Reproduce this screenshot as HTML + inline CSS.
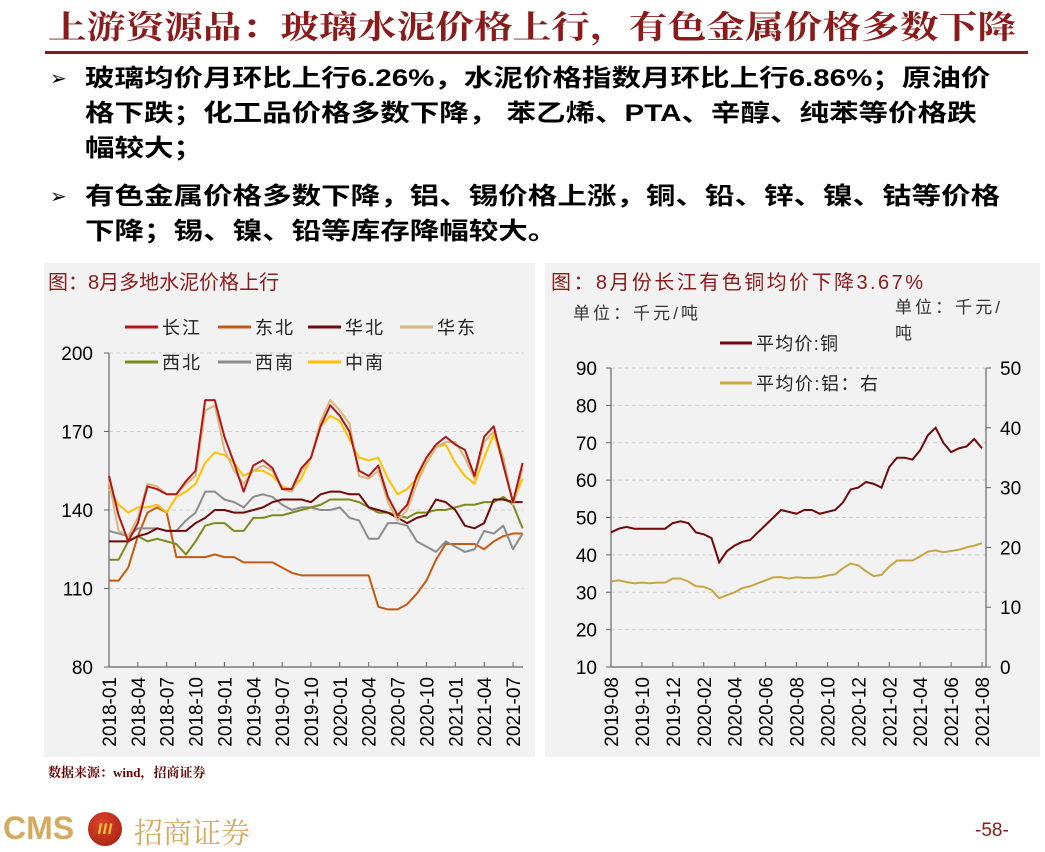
<!DOCTYPE html>
<html><head><meta charset="utf-8">
<style>
*{margin:0;padding:0;box-sizing:border-box}
body{width:1045px;height:849px;background:#fff;position:relative;overflow:hidden;font-family:"Liberation Sans","Noto Sans CJK SC",sans-serif}
.abs{position:absolute;white-space:nowrap}
#title{left:48px;top:2px;font-size:32px;color:#8B1A1A;font-family:"Liberation Serif","Noto Serif CJK SC",serif;font-weight:bold;transform:scaleX(1.21);transform-origin:left top}
#rule{left:45px;top:51px;width:983px;height:3px;background:#8B1A1A}
.bl{font-size:24px;color:#000;font-weight:bold;left:85px;line-height:35px;transform:scaleX(1.23);transform-origin:left top}
.arrow{font-size:20px;left:50px}
svg text{font-family:"Liberation Sans","Noto Sans CJK SC",sans-serif}
</style></head><body>
<div class="abs" id="title">上游资源品：玻璃水泥价格上行，有色金属价格多数下降</div>
<div class="abs" id="rule"></div>
<div class="abs arrow" style="top:66px">➢</div>
<div class="abs bl" style="top:61px">玻璃均价月环比上行6.26%，水泥价格指数月环比上行6.86%；原油价<br>格下跌；化工品价格多数下降， 苯乙烯、PTA、辛醇、纯苯等价格跌<br>幅较大；</div>
<div class="abs arrow" style="top:184px">➢</div>
<div class="abs bl" style="top:179px">有色金属价格多数下降，铝、锡价格上涨，铜、铅、锌、镍、钴等价格<br>下降；锡、镍、铅等库存降幅较大。</div>

<svg class="abs" style="left:0;top:0" width="1045" height="849" id="svg">
<rect x="44" y="263" width="491" height="494" fill="#f2f2f2"/>
<rect x="545" y="263" width="495" height="494" fill="#f2f2f2"/>
<text x="48" y="289" font-size="20" fill="#8B1A1A">图：8月多地水泥价格上行</text>
<text x="551" y="289" font-size="20" fill="#8B1A1A" textLength="372">图：8月份长江有色铜均价下降3.67%</text>
<text x="573" y="319" font-size="17" fill="#333" textLength="125">单位：千元/吨</text>
<text x="895" y="313" font-size="17" fill="#333" textLength="105">单位：千元/</text>
<text x="895" y="339" font-size="17" fill="#333">吨</text>
<g id="left"></g><g id="right"></g>
</svg>

<div class="abs" style="left:48px;top:762px;font-size:13px;font-weight:bold;color:#6B0000;font-family:'Liberation Serif','Noto Serif CJK SC',serif">数据来源：wind，招商证券</div>
<div class="abs" style="left:3px;top:810px;font-size:32px;color:#D4AA5F;font-weight:bold">CMS</div>
<div class="abs" style="left:88px;top:812px;width:34px;height:34px;border-radius:50%;background:radial-gradient(circle at 40% 35%,#e0452a,#9c1a10);color:#F5C542;font-size:17px;font-weight:bold;text-align:center;line-height:34px;font-style:italic">ווו</div>
<div class="abs" style="left:134px;top:811px;font-size:29px;color:#D4AA5F;font-family:'Noto Serif CJK SC',serif">招商证券</div>
<div class="abs" style="left:975px;top:820px;font-size:19px;color:#8B1A1A">-58-</div>

<script>
const cementMonths = ["2018-01","2018-04","2018-07","2018-10","2019-01","2019-04","2019-07","2019-10","2020-01","2020-04","2020-07","2020-10","2021-01","2021-04","2021-07"];
const cementYTicks = [80,110,140,170,200];
const cjiang = [153,138,128,135,149,148,146,146,151,155,182,182,168,158,147,157,159,156,148,148,156,160,172,180,176,170,155,153,157,145,138,142,153,160,165,168,165,163,153,168,172,157,143,158];
const dongbei = [113,113,118,130,139,141,139,122,122,122,122,123,122,122,120,120,120,120,118,116,115,115,115,115,115,115,115,115,103,102,102,104,108,113,121,127,127,127,127,125,128,130,131,131];
const huabei = [128,128,128,130,131,133,132,132,132,135,137,140,140,139,139,140,141,143,144,144,144,143,146,147,147,146,146,141,140,139,137,135,137,138,144,143,140,134,133,135,144,144,143,143];
const huadong = [151,132,130,137,150,149,146,146,150,153,178,180,163,155,150,155,157,155,148,147,155,160,174,182,178,173,153,152,155,143,136,140,150,158,164,166,166,160,152,166,170,160,142,156];
const xibei = [121,121,128,130,128,129,128,127,123,128,134,135,135,132,132,137,137,138,138,139,140,141,142,144,144,144,143,141,139,139,138,137,139,139,140,140,141,142,142,143,143,145,142,133];
const xinan = [132,131,130,133,133,133,132,132,136,139,147,147,144,143,141,145,146,145,142,140,141,141,140,140,141,137,136,129,129,135,135,134,128,126,124,128,126,124,125,132,131,134,125,131];
const zhongnan = [148,142,139,141,141,142,139,145,147,150,158,162,161,158,153,155,155,153,149,148,152,160,172,176,174,167,160,159,160,152,146,148,152,158,164,165,158,153,150,160,169,158,143,152];

const metalMonths = ["2019-08","2019-10","2019-12","2020-02","2020-04","2020-06","2020-08","2020-10","2020-12","2021-02","2021-04","2021-06","2021-08"];
const leftYTicks = [10,20,30,40,50,60,70,80,90];
const rightYTicks = [0,10,20,30,40,50];
const copper = [46,47,47.5,47,47,47,47,47,48.5,49,48.5,46,45.5,44.5,38,41,42.5,43.5,44,46,48,50,52,51.5,51,52,52,51,51.5,52,54,57.5,58,59.5,59,58,63.5,66,66,65.5,68,72,74,70,67.5,68.5,69,71,68.5];
const aluminum = [14.3,14.5,14.2,14,14.1,14,14.1,14.1,14.8,14.8,14.3,13.5,13.4,12.9,11.5,12,12.5,13.2,13.5,14,14.5,15,15,14.8,15,14.9,14.9,15,15.3,15.5,16.5,17.3,17,16,15.2,15.4,16.8,17.8,17.8,17.8,18.5,19.3,19.5,19.2,19.4,19.6,20,20.3,20.7];

const NS="http://www.w3.org/2000/svg";
function mk(parent,tag,attrs){const e=document.createElementNS(NS,tag);for(const k in attrs)e.setAttribute(k,attrs[k]);parent.appendChild(e);return e;}

// LEFT CHART
const L=document.getElementById('left');
const lx0=109,lx1=523,ly0=667,ly1=353;
const lxs=i=>lx0+i*(513-109)/42;
const lys=v=>ly0-(v-80)*(ly0-ly1)/120;
cementYTicks.forEach(v=>{
  if(v>80){const g=mk(L,'line',{x1:lx0,x2:lx1,y1:lys(v),y2:lys(v),stroke:'#d0d0d0','stroke-dasharray':'4,3'});
  
  }
  const t=mk(L,'text',{x:93,y:lys(v)+7,'font-size':19,'text-anchor':'end',fill:'#000'});t.textContent=v;
  
  
  const tk=mk(L,'line',{x1:lx0-5,x2:lx0,y1:lys(v),y2:lys(v),stroke:'#666'});
  
  
});
cementMonths.forEach((m,k)=>{
  const x=lxs(k*3);
  const tk=mk(L,'line',{x1:x,x2:x,y1:ly0-5,y2:ly0,stroke:'#666'});
  
  
  const t=mk(L,'text',{x:0,y:0,'font-size':19,'text-anchor':'end',transform:`translate(${x+7},${ly0+10}) rotate(-90)`});t.textContent=m;
  
  
});
let a1=mk(L,'line',{x1:lx0,x2:lx0,y1:ly1,y2:ly0,stroke:'#666','stroke-width':1.2});


let a2=mk(L,'line',{x1:lx0,x2:lx1,y1:ly0,y2:ly0,stroke:'#666','stroke-width':1.2});


const lseries=[[dongbei,'#C55A11','东北','series-dongbei'],[xinan,'#8C8C8C','西南','series-xinan'],[xibei,'#7F8A1E','西北','series-xibei'],[huabei,'#6E0A0A','华北','series-huabei'],[zhongnan,'#FFC000','中南','series-zhongnan'],[huadong,'#D9B77A','华东','series-huadong'],[cjiang,'#B01818','长江','series-changjiang']];
lseries.forEach(([d,c,n,id])=>{
  const p=mk(L,'polyline',{points:d.map((v,i)=>lxs(i)+','+lys(v)).join(' '),fill:'none',stroke:c,'stroke-width':2,'stroke-linejoin':'round'});
  
  
});
const legL=[['长江','#B01818',125,327],['东北','#C55A11',218,327],['华北','#6E0A0A',308,327],['华东','#D9B77A',400,327],['西北','#7F8A1E',125,362],['西南','#8C8C8C',218,362],['中南','#FFC000',308,362]];
legL.forEach(([n,c,x,y])=>{
  const l=mk(L,'line',{x1:x,x2:x+33,y1:y,y2:y,stroke:c,'stroke-width':3});
  
  
  const t=mk(L,'text',{x:x+37,y:y+7,'font-size':18,fill:'#222',textLength:38});t.textContent=n;
  
  
});

// RIGHT CHART
const R=document.getElementById('right');
const rx0=611,rx1=986,ry0=667,ry1=368;
const rxs=i=>rx0+i*0.5*(982-611)/24;
const rxm=m=>rx0+m*(982-611)/24;
const ryl=v=>ry0-(v-10)*(ry0-ry1)/80;
const ryr=v=>ry0-v*(ry0-ry1)/50;
leftYTicks.forEach(v=>{
  if(v>10){const g=mk(R,'line',{x1:rx0,x2:rx1,y1:ryl(v),y2:ryl(v),stroke:'#d0d0d0','stroke-dasharray':'4,3'});
  
  }
  const t=mk(R,'text',{x:597,y:ryl(v)+7,'font-size':19,'text-anchor':'end'});t.textContent=v;
  
  
  const tk=mk(R,'line',{x1:rx0-5,x2:rx0,y1:ryl(v),y2:ryl(v),stroke:'#666'});
  
  
});
rightYTicks.forEach(v=>{
  const t=mk(R,'text',{x:1000,y:ryr(v)+7,'font-size':19});t.textContent=v;
  
  
  const tk=mk(R,'line',{x1:rx1,x2:rx1+5,y1:ryr(v),y2:ryr(v),stroke:'#666'});
  
  
});
metalMonths.forEach((m,k)=>{
  const x=rxm(k*2);
  const tk=mk(R,'line',{x1:x,x2:x,y1:ry0-5,y2:ry0,stroke:'#666'});
  
  
  const t=mk(R,'text',{x:0,y:0,'font-size':19,'text-anchor':'end',transform:`translate(${x+7},${ry0+10}) rotate(-90)`});t.textContent=m;
  
  
});
[[rx0,rx0,ry1,ry0,'copper-y-axis'],[rx1,rx1,ry1,ry0,'aluminum-y-axis'],[rx0,rx1,ry0,ry0,'right-x-axis']].forEach(([x1,x2,y1,y2,n])=>{
  const a=mk(R,'line',{x1,x2,y1,y2,stroke:'#666','stroke-width':1.2});
  
  
});
let pa=mk(R,'polyline',{points:aluminum.map((v,i)=>rxs(i)+','+ryr(v)).join(' '),fill:'none',stroke:'#C9A545','stroke-width':2});


let pc=mk(R,'polyline',{points:copper.map((v,i)=>rxs(i)+','+ryl(v)).join(' '),fill:'none',stroke:'#6E0A0A','stroke-width':2});


[['平均价:铜','#6E0A0A',343,82],['平均价:铝：右','#C9A545',383,122]].forEach(([n,c,y,w])=>{
  const l=mk(R,'line',{x1:720,x2:752,y1:y,y2:y,stroke:c,'stroke-width':3});
  
  
  const t=mk(R,'text',{x:756,y:y+7,'font-size':18,fill:'#222',textLength:w});t.textContent=n;
  
  
});
</script>
</body></html>
